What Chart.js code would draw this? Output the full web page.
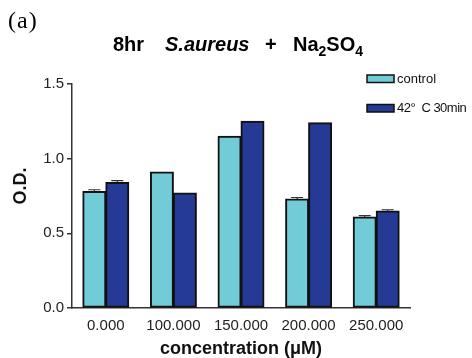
<!DOCTYPE html>
<html>
<head>
<meta charset="utf-8">
<script src="https://cdn.jsdelivr.net/npm/chart.js@4.4.1/dist/chart.umd.min.js"></script>
<style>
  html, body { margin: 0; padding: 0; background: #fff; }
  #wrap { width: 472px; height: 358px; }
</style>
</head>
<body>
<div id="wrap"><canvas id="grafico" width="472" height="358"></canvas></div>
<script>
// Datos
const concentraciones = ['0.000', '100.000', '150.000', '200.000', '250.000'];
const control = [0.78, 0.91, 1.15, 0.73, 0.61];
const controlError = [0.012, 0, 0, 0.01, 0.008];
const calor = [0.84, 0.77, 1.25, 1.24, 0.65];
const calorError = [0.013, 0, 0, 0, 0.008];
const etiquetasSerie = ['control', '42°  C 30min'];
const ticksY = [0, 0.5, 1.0, 1.5];

const FUENTE = "'Liberation Sans', Arial, sans-serif";
const colorControl = '#72ccd8';
const colorCalor = '#243a95';

// Barras de error (solo hacia arriba)
const barrasError = {
    id: 'barrasError',
    afterDatasetsDraw(chart) {
        const ctx = chart.ctx;
        const y = chart.scales.y;
        const errores = [controlError, calorError];
        ctx.save();
        ctx.strokeStyle = '#333';
        ctx.lineWidth = 1.2;
        chart.data.datasets.forEach((ds, i) => {
            chart.getDatasetMeta(i).data.forEach((bar, j) => {
                const e = errores[i][j];
                if (!e) return;
                const yTop = y.getPixelForValue(ds.data[j] + e);
                ctx.beginPath();
                ctx.moveTo(bar.x, bar.y);
                ctx.lineTo(bar.x, yTop);
                ctx.moveTo(bar.x - 6, yTop);
                ctx.lineTo(bar.x + 6, yTop);
                ctx.stroke();
            });
        });
        ctx.restore();
    }
};

// Textos: título con subíndices, (a), leyenda y título del eje Y
const textos = {
    id: 'textos',
    afterDraw(chart) {
        const ctx = chart.ctx;
        ctx.save();
        ctx.fillStyle = '#000';
        ctx.textBaseline = 'alphabetic';
        ctx.textAlign = 'left';

        // (a)
        ctx.font = "24px 'Liberation Serif', 'Times New Roman', serif";
        ctx.letterSpacing = '1px';
        ctx.fillText('(a)', 8, 28);
        ctx.letterSpacing = '0px';

        // título
        const base = 51;
        ctx.font = 'bold 20px ' + FUENTE;
        ctx.fillText('8hr', 113, base);
        ctx.font = 'italic bold 20px ' + FUENTE;
        ctx.fillText('S.aureus', 165, base);
        ctx.font = 'bold 20px ' + FUENTE;
        ctx.fillText('+', 265, base);
        let x = 293;
        const partes = [['Na', false], ['2', true], ['SO', false], ['4', true]];
        partes.forEach(([t, sub]) => {
            ctx.font = sub ? 'bold 14px ' + FUENTE : 'bold 20px ' + FUENTE;
            ctx.fillText(t, x, sub ? base + 5 : base);
            x += ctx.measureText(t).width;
        });

        // leyenda
        const colores = [colorControl, colorCalor];
        const filas = [75, 104.5];
        ctx.font = '13px ' + FUENTE;
        ctx.textBaseline = 'middle';
        etiquetasSerie.forEach((txt, i) => {
            ctx.fillStyle = colores[i];
            ctx.fillRect(367, filas[i], 27, 7.5);
            ctx.strokeStyle = '#111';
            ctx.lineWidth = 1.5;
            ctx.strokeRect(367, filas[i], 27, 7.5);
            ctx.fillStyle = '#111';
            ctx.letterSpacing = i === 1 ? '-0.5px' : '0px';
            ctx.fillText(txt, 397, filas[i] + 4);
        });
        ctx.letterSpacing = '0px';

        // título eje Y
        ctx.translate(21, 186);
        ctx.rotate(-Math.PI / 2);
        ctx.textAlign = 'center';
        ctx.font = 'bold 18px ' + FUENTE;
        ctx.fillText('O.D.', 0, 0);
        ctx.restore();
    }
};

const ctx = document.getElementById('grafico').getContext('2d');
const grafico = new Chart(ctx, {
    type: 'bar',
    data: {
        labels: concentraciones,
        datasets: [{
            label: etiquetasSerie[0],
            data: control,
            backgroundColor: colorControl,
            borderColor: '#111',
            borderWidth: 2,
            borderSkipped: false,
            inflateAmount: 0.5
        }, {
            label: etiquetasSerie[1],
            data: calor,
            backgroundColor: colorCalor,
            borderColor: '#111',
            borderWidth: 2,
            borderSkipped: false,
            inflateAmount: 0.5
        }]
    },
    options: {
        responsive: false,
        animation: false,
        devicePixelRatio: 1,
        categoryPercentage: 0.68,
        barPercentage: 1.0,
        layout: { padding: { left: 0, right: 62, top: 84, bottom: 0 } },
        plugins: { legend: { display: false }, title: { display: false }, tooltip: { enabled: false } },
        scales: {
            x: {
                grid: { display: false },
                border: { display: true, color: '#333', width: 1.5 },
                ticks: { color: '#222', font: { family: FUENTE, size: 15 }, padding: 1, maxRotation: 0 },
                title: {
                    display: true,
                    text: 'concentration (μM)',
                    color: '#111',
                    font: { family: FUENTE, size: 18, weight: 'bold', lineHeight: 1.0 },
                    padding: { top: 0, bottom: 0 }
                },
                afterFit(scale) { scale.height = 50; }
            },
            y: {
                min: 0,
                max: 1.5,
                afterBuildTicks(scale) { scale.ticks = ticksY.map(v => ({ value: v })); },
                grid: { drawOnChartArea: false, drawTicks: true, tickLength: 5, color: '#333', lineWidth: 1.5 },
                border: { display: true, color: '#333', width: 1.5 },
                ticks: {
                    color: '#222',
                    font: { family: FUENTE, size: 15 },
                    padding: 3,
                    callback: v => Number(v).toFixed(1)
                },
                afterFit(scale) { scale.width = 72; }
            }
        }
    },
    plugins: [barrasError, textos]
});
</script>
</body>
</html>
